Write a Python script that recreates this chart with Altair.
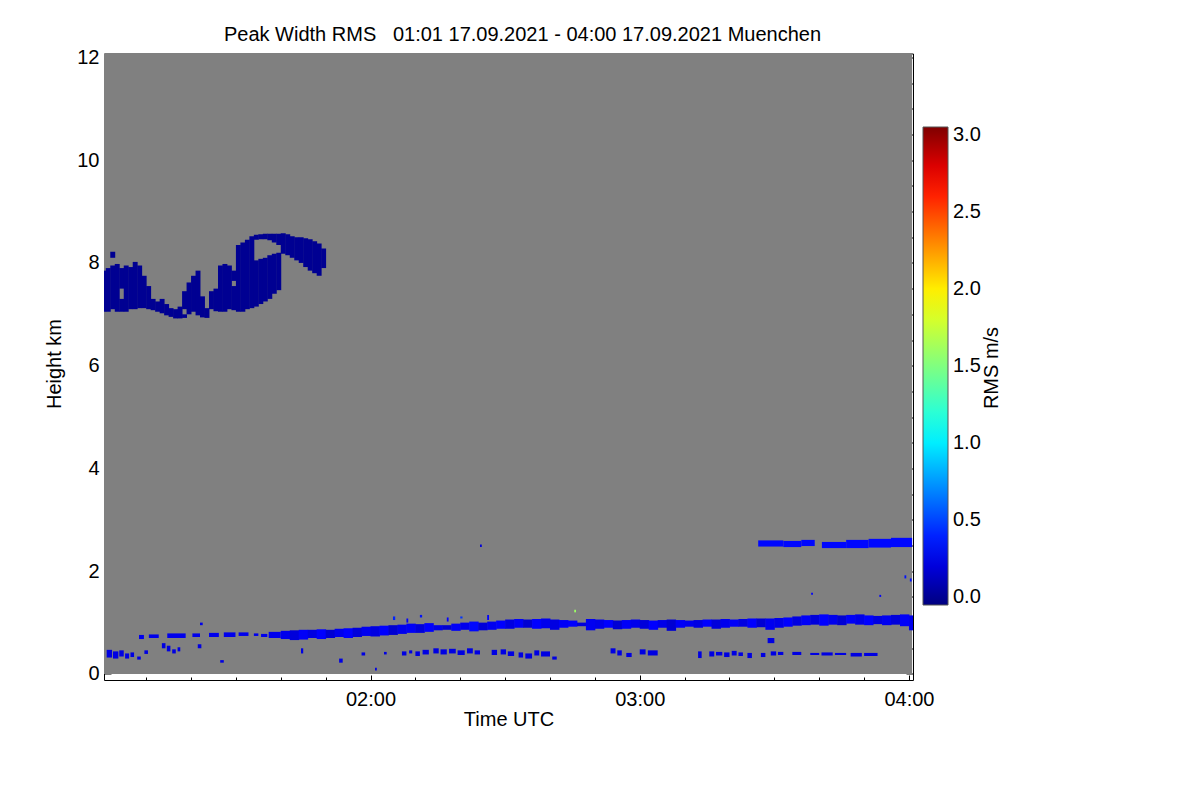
import altair as alt
import pandas as pd

# ---- time axis: minutes after 00:00 UTC, 17.09.2021 ----
x_domain = [60.6, 240.9]
y_domain = [-0.117, 12.076]
x_major = [120, 180, 240]
x_minor = [70, 80, 90, 100, 110, 130, 140, 150, 160, 170, 190, 200, 210, 220, 230]
y_major = [0, 2, 4, 6, 8, 10, 12]
y_minor = [0.5, 1, 1.5, 2.5, 3, 3.5, 4.5, 5, 5.5, 6.5, 7, 7.5, 8.5, 9, 9.5, 10.5, 11, 11.5]
legend_values = [0.0, 0.5, 1.0, 1.5, 2.0, 2.5, 3.0]

# ---- measured field (no-echo background) ----
field_t0 = [60.6]
field_t1 = [240.7]
field_h0 = [0.0]
field_h1 = [12.076]

# ---- upper cloud (1-minute columns) ----
cirrus_time = [60, 61, 62, 62, 63, 64, 64, 65, 66, 67, 68, 69, 70, 71, 72, 73, 74, 75,
               76, 77, 78, 78, 79, 80, 81, 82, 83, 84, 85, 86, 87, 88, 89, 89, 90, 91, 92, 93,
               94, 94, 95, 95, 96, 96, 97, 97, 98, 98, 99, 99, 100, 101, 102, 103, 104, 105, 106, 107,
               108, 109]
cirrus_base = [7.05, 7.05, 7.10, 8.10, 7.05, 7.05, 7.50, 7.05, 7.10, 7.10, 7.12, 7.12, 7.10, 7.08, 7.05, 7.02, 6.98, 6.95,
               6.92, 6.92, 6.93, 7.10, 7.00, 7.05, 6.98, 6.94, 6.93, 7.10, 7.06, 7.05, 7.05, 7.10, 7.08, 7.65, 7.05, 7.05, 7.10, 7.12,
               7.15, 8.45, 7.20, 8.46, 7.25, 8.46, 7.30, 8.44, 7.40, 8.40, 7.47, 8.35, 8.18, 8.15, 8.10, 8.05, 8.00, 7.92, 7.85, 7.80,
               7.75, 7.90]
cirrus_top = [7.85, 7.90, 7.95, 8.22, 7.98, 7.30, 7.90, 7.95, 7.92, 8.02, 7.95, 7.75, 7.55, 7.30, 7.25, 7.30, 7.20, 7.12,
              7.10, 7.15, 7.00, 7.45, 7.62, 7.75, 7.85, 7.35, 7.12, 7.45, 7.50, 7.95, 7.98, 7.95, 7.55, 7.85, 8.35, 8.40, 8.45, 8.52,
              8.05, 8.55, 8.08, 8.56, 8.10, 8.57, 8.15, 8.57, 8.18, 8.57, 8.20, 8.57, 8.58, 8.56, 8.52, 8.50, 8.50, 8.48, 8.46, 8.42,
              8.38, 8.28]
cirrus_rms = 0.0

# ---- boundary-layer top band (2-minute columns) ----
band_time = list(range(100, 241, 2))
band_base = [0.68, 0.66, 0.67, 0.70, 0.68, 0.70, 0.72, 0.70, 0.72, 0.74,
             0.73, 0.75, 0.76, 0.78, 0.80, 0.80, 0.82, 0.85, 0.86, 0.84,
             0.86, 0.83, 0.85, 0.86, 0.88, 0.88, 0.90, 0.90, 0.88, 0.89,
             0.86, 0.90, 0.92, 0.93, 0.85, 0.88, 0.90, 0.87, 0.88, 0.90,
             0.88, 0.86, 0.90, 0.84, 0.90, 0.92, 0.90, 0.92, 0.88, 0.90,
             0.92, 0.92, 0.90, 0.91, 0.86, 0.90, 0.92, 0.94, 0.95, 0.96,
             0.94, 0.96, 0.95, 0.98, 0.96, 0.95, 0.97, 0.95, 0.96, 0.93,
             0.85]
band_top = [0.84, 0.85, 0.86, 0.86, 0.87, 0.86, 0.88, 0.89, 0.90, 0.92,
            0.93, 0.94, 0.95, 0.96, 0.98, 0.97, 0.99, 0.95, 0.95, 0.98,
            1.00, 1.02, 1.00, 1.02, 1.04, 1.06, 1.07, 1.06, 1.07, 1.08,
            1.06, 1.05, 1.04, 1.00, 1.07, 1.06, 1.05, 1.04, 1.05, 1.06,
            1.05, 1.04, 1.05, 1.06, 1.05, 1.04, 1.05, 1.06, 1.06, 1.07,
            1.06, 1.07, 1.08, 1.08, 1.08, 1.09, 1.10, 1.12, 1.14, 1.15,
            1.16, 1.15, 1.14, 1.15, 1.16, 1.14, 1.13, 1.14, 1.15, 1.16,
            1.14]
band_rms = [0.25, 0.20, 0.28, 0.22, 0.30, 0.18, 0.25, 0.30, 0.20, 0.26,
            0.22, 0.30, 0.18, 0.25, 0.28, 0.20, 0.30, 0.24, 0.18, 0.28,
            0.25, 0.32, 0.20, 0.26, 0.30, 0.22, 0.28, 0.18, 0.30, 0.25,
            0.22, 0.28, 0.30, 0.20, 0.26, 0.24, 0.30, 0.18, 0.28, 0.25,
            0.20, 0.30, 0.24, 0.18, 0.28, 0.26, 0.22, 0.30, 0.20, 0.25,
            0.28, 0.22, 0.30, 0.18, 0.26, 0.24, 0.30, 0.22, 0.28, 0.20,
            0.30, 0.25, 0.18, 0.28, 0.24, 0.30, 0.22, 0.26, 0.20, 0.28,
            0.25]

# ---- early, broken part of the band ----
early_t0 = [68.4, 70.6, 74.7, 80.3, 84.0, 87.3, 90.6, 94.0, 95.6, 97.3]
early_t1 = [69.5, 72.8, 78.8, 82.0, 86.2, 89.9, 92.8, 95.0, 97.0, 100.0]
early_h0 = [0.68, 0.70, 0.70, 0.72, 0.72, 0.72, 0.74, 0.74, 0.72, 0.70]
early_h1 = [0.76, 0.77, 0.79, 0.79, 0.80, 0.81, 0.81, 0.79, 0.78, 0.82]
early_rms = 0.25

# ---- low-level speckle ----
low_t0 = [61.2, 62.6, 64.0, 65.3, 66.5, 68.0, 69.6, 73.5, 74.6, 75.8, 77.0, 81.5, 86.5,
          104.5, 113.0, 118.0, 121.0, 123.0, 127.0, 128.6, 130.0, 131.6, 134.0, 135.6, 137.5,
          139.4, 141.5, 143.2, 147.0, 149.0, 150.6, 153.0, 154.5, 156.5, 158.0, 160.5,
          173.5, 175.0, 177.0, 180.0, 181.8, 193.0, 195.5, 197.0, 198.8, 200.5, 202.0, 204.0,
          207.0, 208.5, 209.2, 210.8, 214.0, 218.0, 220.5, 223.5, 227.0, 230.0]
low_t1 = [62.4, 63.8, 65.0, 66.2, 67.3, 68.8, 70.4, 74.3, 75.4, 76.6, 77.6, 82.3, 87.3,
          105.0, 113.8, 118.8, 121.4, 123.6, 128.0, 129.3, 131.0, 133.0, 135.2, 137.0, 139.0,
          141.0, 142.8, 144.4, 148.2, 150.2, 152.0, 154.0, 156.0, 157.6, 160.0, 161.5,
          174.6, 176.0, 178.2, 181.3, 184.0, 193.8, 196.6, 198.4, 200.0, 201.6, 203.0, 205.0,
          208.0, 210.0, 210.4, 212.0, 216.0, 220.0, 223.0, 226.0, 229.5, 233.0]
low_h0 = [0.32, 0.30, 0.34, 0.30, 0.33, 0.28, 0.39, 0.50, 0.44, 0.40, 0.44, 0.50, 0.22,
          0.40, 0.22, 0.36, 0.07, 0.38, 0.36, 0.40, 0.35, 0.38, 0.40, 0.38, 0.40,
          0.37, 0.40, 0.38, 0.37, 0.38, 0.35, 0.32, 0.30, 0.36, 0.34, 0.28,
          0.40, 0.36, 0.33, 0.38, 0.36, 0.31, 0.34, 0.36, 0.33, 0.36, 0.35, 0.31,
          0.33, 0.60, 0.36, 0.37, 0.37, 0.37, 0.36, 0.37, 0.34, 0.35]
low_h1 = [0.47, 0.44, 0.46, 0.40, 0.42, 0.34, 0.46, 0.60, 0.55, 0.48, 0.52, 0.58, 0.27,
          0.50, 0.30, 0.42, 0.12, 0.43, 0.44, 0.46, 0.44, 0.47, 0.50, 0.48, 0.49,
          0.46, 0.50, 0.46, 0.47, 0.48, 0.44, 0.42, 0.40, 0.46, 0.44, 0.34,
          0.50, 0.46, 0.41, 0.48, 0.46, 0.44, 0.44, 0.43, 0.42, 0.45, 0.42, 0.41,
          0.41, 0.70, 0.44, 0.43, 0.43, 0.41, 0.42, 0.41, 0.41, 0.41]
low_rms = 0.22

# ---- layer near 2.6 km ----
l26_t0 = [206.4, 212.0, 216.0, 220.6, 226.0, 231.0, 236.0]
l26_t1 = [212.0, 216.0, 219.0, 226.0, 231.0, 236.0, 240.7]
l26_h0 = [2.48, 2.47, 2.49, 2.45, 2.45, 2.46, 2.47]
l26_h1 = [2.60, 2.59, 2.61, 2.57, 2.61, 2.63, 2.65]
l26_rms = 0.32

# ---- isolated gates ----
pt_t0 = [144.4, 165.4, 218.2, 233.4, 239.0, 240.2, 82.0, 125.0, 128.0, 131.0, 137.0, 140.0, 146.0]
pt_t1 = [144.8, 165.8, 218.6, 233.8, 239.4, 240.6, 82.6, 125.5, 128.4, 131.5, 137.4, 140.5, 146.4]
pt_h0 = [2.47, 1.20, 1.54, 1.50, 1.86, 1.80, 0.95, 1.05, 1.00, 1.10, 1.02, 1.08, 1.05]
pt_h1 = [2.52, 1.25, 1.58, 1.54, 1.92, 1.86, 1.00, 1.12, 1.08, 1.15, 1.10, 1.12, 1.15]
pt_rms = [0.20, 1.60, 0.30, 0.30, 0.35, 0.35, 0.25, 0.40, 0.30, 0.35, 0.30, 0.45, 0.30]

title_text = "Peak Width RMS\u00a0\u00a0\u00a001:01 17.09.2021 - 04:00 17.09.2021 Muenchen"

# ---- tables ----
field = pd.DataFrame({"t0": field_t0, "t1": field_t1, "h0": field_h0, "h1": field_h1})

cirrus = pd.DataFrame({"t0": cirrus_time, "h0": cirrus_base, "h1": cirrus_top})
cirrus["t1"] = cirrus["t0"] + 1.1
cirrus["rms"] = cirrus_rms
band = pd.DataFrame({"t0": band_time, "h0": band_base, "h1": band_top, "rms": band_rms})
band["t1"] = band["t0"] + 2.1
early = pd.DataFrame({"t0": early_t0, "t1": early_t1, "h0": early_h0, "h1": early_h1})
early["rms"] = early_rms
echo_a = pd.concat([cirrus, band, early], ignore_index=True)

low = pd.DataFrame({"t0": low_t0, "t1": low_t1, "h0": low_h0, "h1": low_h1})
low["rms"] = low_rms
l26 = pd.DataFrame({"t0": l26_t0, "t1": l26_t1, "h0": l26_h0, "h1": l26_h1})
l26["rms"] = l26_rms
echo_b = pd.concat([low, l26], ignore_index=True)

pts = pd.DataFrame({"t0": pt_t0, "t1": pt_t1, "h0": pt_h0, "h1": pt_h1, "rms": pt_rms})

FONT = "Liberation Sans"
xs = alt.Scale(domain=x_domain, nice=False, zero=False)
ys = alt.Scale(domain=y_domain, nice=False, zero=False)
cs = alt.Scale(domain=[-0.05, 0.30, 1.05, 1.50, 1.95, 2.70, 3.05],
               range=["#000080", "#0000ff", "#00ffff", "#80ff80", "#ffff00", "#ff0000", "#800000"],
               interpolate="rgb")

hour_label = "timeFormat(datetime(2021, 8, 17, 0, datum.value), '%H:%M')"


def xaxis(orient, values, size, labels, title=""):
    kw = dict(orient=orient, values=values, tickSize=size, offset=-size, domain=False, grid=False,
              labels=labels, title=title, tickColor="#000000", tickWidth=1)
    if labels:
        kw.update(labelExpr=hour_label, labelFontSize=20, labelFont=FONT, labelColor="#000000",
                  labelPadding=9, labelFlush=False, labelOverlap=False)
    if title:
        kw.update(titleFontSize=20, titleFont=FONT, titleFontWeight="normal", titleColor="#000000",
                  titleY=34)
    return alt.Axis(**kw)


def yaxis(orient, values, size, labels, title="", **extra):
    kw = dict(orient=orient, values=values, tickSize=size, offset=-size, domain=False, grid=False,
              labels=labels, title=title, tickColor="#000000", tickWidth=1)
    if labels:
        kw.update(format="d", labelFontSize=20, labelFont=FONT, labelColor="#000000",
                  labelPadding=5, labelFlush=False, labelOverlap=False)
    if title:
        kw.update(titleFontSize=20, titleFont=FONT, titleFontWeight="normal", titleColor="#000000")
    kw.update(extra)
    return alt.Axis(**kw)


legend = alt.Legend(orient="none", legendX=819, legendY=73.5, direction="vertical",
                    gradientLength=478, gradientThickness=25, values=legend_values, format=".1f",
                    labelFontSize=20, labelFont=FONT, labelColor="#000000", labelOffset=5,
                    labelOverlap=False, title=None, padding=0,
                    gradientStrokeColor="#555555", gradientStrokeWidth=1)

bg = alt.Chart(field).mark_rect(color="#808080", strokeWidth=0).encode(
    x=alt.X("t0:Q", scale=xs, axis=xaxis("bottom", x_major, 5, True, "Time UTC")),
    x2="t1:Q",
    y=alt.Y("h0:Q", scale=ys, axis=yaxis("left", y_major, 7, True, "Height km",
                                         titleX=-47, titleY=310)),
    y2="h1:Q",
)

la = alt.Chart(echo_a).mark_rect(strokeWidth=0, clip=True).encode(
    x=alt.X("t0:Q", scale=xs, axis=xaxis("bottom", x_minor, 3, False)),
    x2="t1:Q",
    y=alt.Y("h0:Q", scale=ys, axis=yaxis("left", y_minor, 4, False)),
    y2="h1:Q",
    color=alt.Color("rms:Q", scale=cs, legend=legend),
)

lb = alt.Chart(echo_b).mark_rect(strokeWidth=0, clip=True).encode(
    x=alt.X("t0:Q", scale=xs, axis=xaxis("top", x_major, 5, False)),
    x2="t1:Q",
    y=alt.Y("h0:Q", scale=ys, axis=yaxis("right", y_major, 7, False, "RMS m/s",
                                         titleAngle=270, titleX=91, titleY=314,
                                         titleBaseline="alphabetic", titleAlign="center")),
    y2="h1:Q",
    color=alt.Color("rms:Q", scale=cs, legend=legend),
)

lc = alt.Chart(pts).mark_rect(strokeWidth=0, clip=True).encode(
    x=alt.X("t0:Q", scale=xs, axis=xaxis("top", x_minor, 3, False)),
    x2="t1:Q",
    y=alt.Y("h0:Q", scale=ys, axis=yaxis("right", y_minor, 4, False)),
    y2="h1:Q",
    color=alt.Color("rms:Q", scale=cs, legend=legend),
)

chart = alt.layer(bg, la, lb, lc).resolve_axis(x="independent", y="independent").properties(
    width=809, height=626.5,
    autosize="none",
    padding={"left": 96, "top": 45.5, "right": 279, "bottom": 112},
    title=alt.Title(title_text, fontSize=20, font=FONT, fontWeight="normal", color="#000000",
                    anchor="middle", dx=14, offset=2),
    background="#ffffff",
).configure_view(stroke="#000000", strokeWidth=1)

chart.save("out.html", embed_options={"renderer": "svg", "actions": False})
